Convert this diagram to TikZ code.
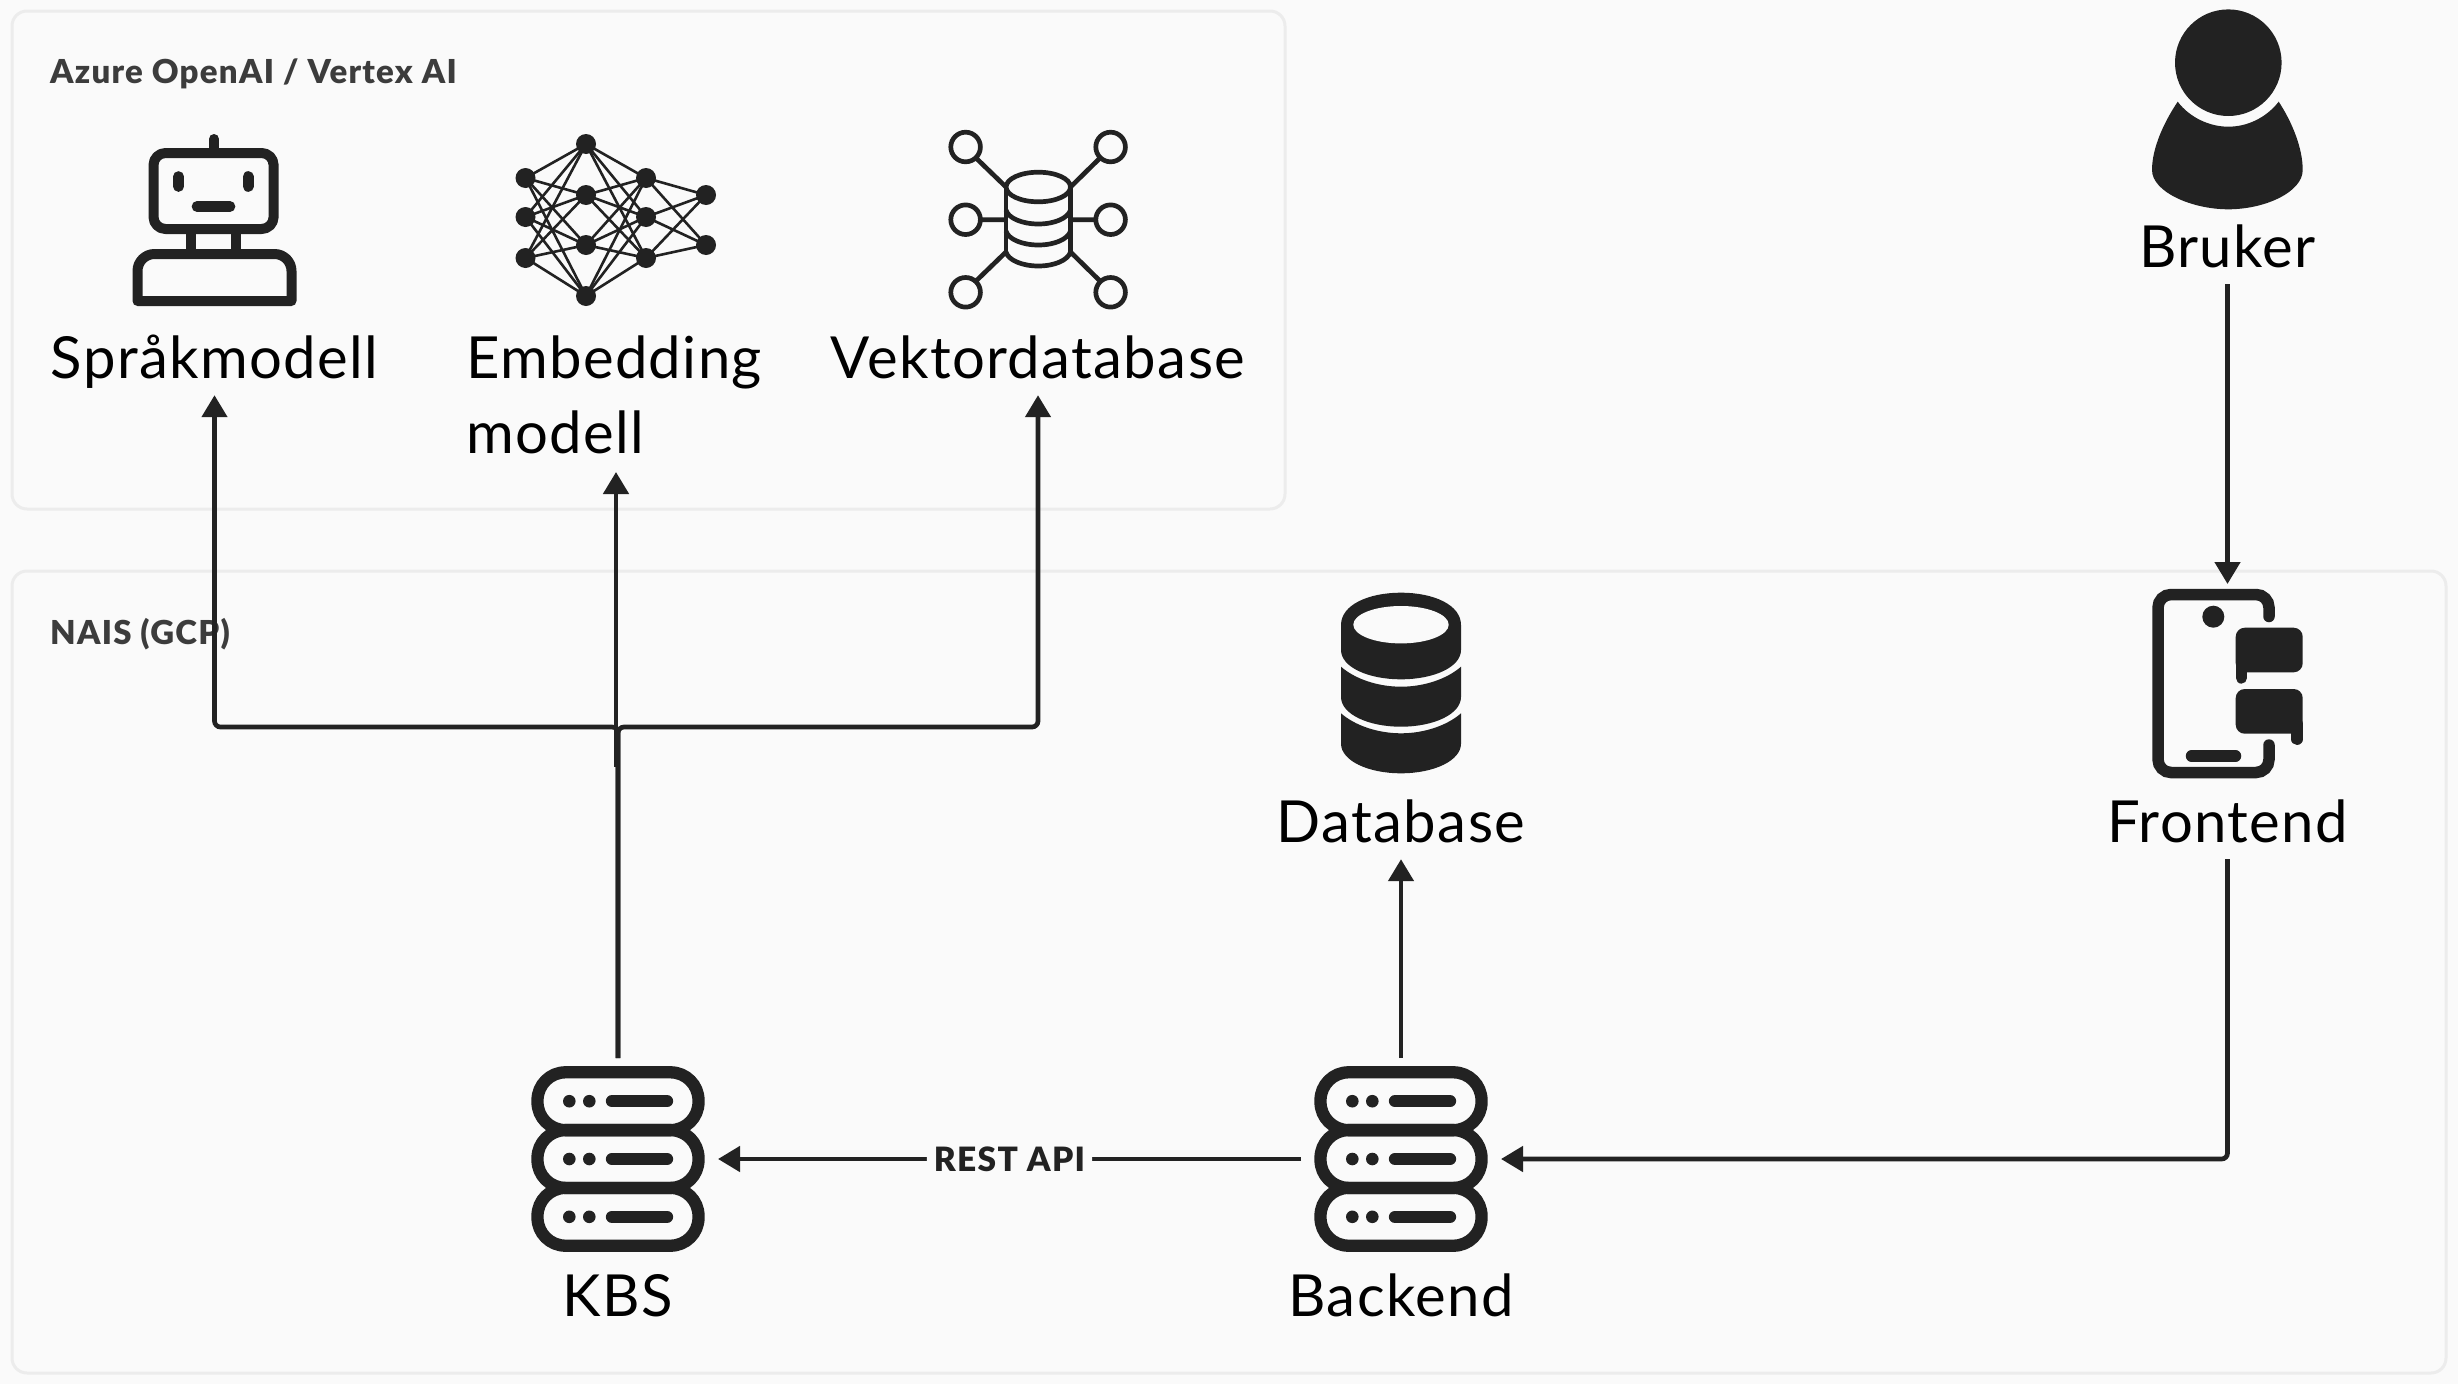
\documentclass[tikz,border=0pt]{standalone}
\usepackage{fontspec}
\setmainfont{Lato}[LetterSpace=2.4]
\newfontfamily\groupfont{Lato}[LetterSpace=3.8, UprightFont=* Black]
\usepackage{xcolor}
\usetikzlibrary{arrows.meta}
\definecolor{ink}{HTML}{222222}
\definecolor{paper}{HTML}{FAFAFA}
\definecolor{edge}{HTML}{ECECEC}
\definecolor{grouptext}{HTML}{3C3C3C}

\tikzset{
  pics/serverstack/.style={code={
    \foreach \row in {-57.8,0,57.8} {
      \draw[ink, line width=12.3pt, rounded corners=28pt] (-80.5,\row-28.9) rectangle (80.5,\row+28.9);
      \fill[ink] (-48.7,\row) circle[radius=6.3pt] (-28.7,\row) circle[radius=6.3pt];
      \draw[ink, line width=12.3pt, line cap=round] (-6,\row) -- (49,\row);
    }
  }},
  pics/dbdisc/.style={code={
    \fill[ink] (-60,0) .. controls (-46,12.3) and (-23,20) .. (0,20) .. controls (23,20) and (46,12.3) .. (60,0)
      -- (60,30.3) .. controls (60,47.3) and (33,60) .. (0,60) .. controls (-33,60) and (-60,47.3) .. (-60,30.3) -- cycle;
  }}
}

\begin{document}
\begin{tikzpicture}[x=1pt, y=-1pt, >={Triangle[length=22pt,width=25pt]},
    group/.style={draw=edge, line width=3pt, rounded corners=15pt, inner sep=0pt},
    grouplbl/.style={anchor=base west, inner sep=0pt, text=grouptext, font=\fontsize{33}{40}\selectfont\groupfont},
    lbl/.style={anchor=base, inner sep=0pt, text height=40pt, text depth=16.5pt, font=\fontsize{58}{75}\selectfont},
    iconbox/.style={inner sep=0pt, outer sep=0pt, minimum width=200pt, minimum height=202pt},
    flow/.style={draw=ink, line width=4.7pt, rounded corners=6pt},
    outline/.style={draw=ink, line width=10pt, line join=round},
    thin outline/.style={draw=ink, line width=4.7pt}]

% Page
\fill[paper] (0,0) rectangle (2458,1384);
\path[use as bounding box] (0,0) rectangle (2458,1384);

% Groups
\node[group, minimum width=1273pt, minimum height=498pt] (azure) at (648.5,260) {};
\node[group, minimum width=2434pt, minimum height=802pt] (nais) at (1229,972) {};
\node[grouplbl] (azurelbl) at (50,83) {Azure OpenAI / Vertex AI};
\node[grouplbl] (naislbl) at (50,644) {NAIS (GCP)};

% Labels
\node[lbl] (sprak) at (214.5,378.5) {Språkmodell};
\node[lbl, anchor=south, align=left, text width=300pt, text depth=93.5pt] (embed) at (616,472) {Embedding\\modell};
\node[lbl] (vektor) at (1038,378.5) {Vektordatabase};
\node[lbl] (bruker) at (2227.5,267.5) {Bruker};
\node[lbl] (database) at (1401,842.5) {Database};
\node[lbl] (frontend) at (2227.5,842.5) {Frontend};
\node[lbl] (kbslbl) at (618,1316.5) {KBS};
\node[lbl] (backendlbl) at (1401,1316.5) {Backend};

% Icon places
\node[iconbox] (kbs) at (618,1159) {};
\node[iconbox] (backend) at (1401,1159) {};
\node[iconbox, minimum height=198pt] (phone) at (2227.5,683) {};
\pic at (kbs) {serverstack};
\pic at (backend) {serverstack};

% Robot
\draw[ink, line width=10pt, line cap=round] (214,139) -- (214,150);
\draw[outline, rounded corners=12pt] (153.5,153) rectangle (273.6,229);
\draw[ink, line width=10.7pt, line cap=round] (178.6,176.5) -- (178.6,186.5) (248.2,176.5) -- (248.2,186.5) (197,206.5) -- (230,206.5);
\draw[ink, line width=10pt] (191,229) -- (191,254) (236,229) -- (236,254);
\draw[outline] (137.5,301) [rounded corners=17pt] -- (137.5,254) -- (291.5,254) [sharp corners] -- (291.5,301) -- cycle;

% Neural net
\foreach \xa/\ya in {525.5/178,525.5/217,525.5/258, 646/178,646/217,646/258}
  \foreach \yb in {144,195,245,296}
    \draw[ink, line width=2.6pt] (\xa,\ya) -- (586,\yb);
\foreach \ya in {178,217,258}
  \foreach \yb in {195,245}
    \draw[ink, line width=2.6pt] (646,\ya) -- (706,\yb);
\foreach \cx/\cy in {525.5/178,525.5/217,525.5/258,586/144,586/195,586/245,586/296,646/178,646/217,646/258,706/195,706/245}
  \fill[ink] (\cx,\cy) circle[radius=10pt];

% Vector database
\foreach \cx in {965.6,1110.6}
  \foreach \cy in {147,219.7,292.3}
    \draw[thin outline] (\cx,\cy) circle[radius=14.8pt];
\draw[thin outline] (976,158) -- (1006,187) (982,219.7) -- (1006,219.7) (976,281) -- (1006,252)
  (1100,158) -- (1070.5,187) (1095,219.7) -- (1070.5,219.7) (1100,281) -- (1070.5,252);
\draw[thin outline] (1038.3,187) ellipse[x radius=32.2pt, y radius=14.8pt];
\draw[thin outline] (1006,187) -- (1006,252) (1070.5,187) -- (1070.5,252);
\foreach \y in {210,231,252}
  \draw[thin outline] (1006,\y) .. controls (1008,\y+8) and (1022,\y+14) .. (1038.3,\y+14) .. controls (1055,\y+14) and (1068,\y+8) .. (1070.5,\y);

% User
\fill[ink] (2228.3,62.7) circle[radius=53.3pt];
\fill[ink] (2177.7,101.7) .. controls (2190,118) and (2210,126.7) .. (2228.3,126.7) .. controls (2247,126.7) and (2266,118) .. (2278.7,101.7)
  .. controls (2292,122) and (2302.7,148) .. (2302.7,170) .. controls (2302.7,192) and (2265,209.3) .. (2228.3,209.3)
  .. controls (2192,209.3) and (2152,192) .. (2152,170) .. controls (2152,148) and (2164,122) .. (2177.7,101.7) -- cycle;

% Phone
\draw[ink, line width=11.5pt, line cap=round, rounded corners=13pt] (2269,616.5) -- (2269,594.5) -- (2158,594.5) -- (2158,772.5) -- (2269,772.5) -- (2269,745);
\fill[ink] (2213.3,616.7) circle[radius=11pt];
\draw[ink, line width=11.5pt, line cap=round] (2191.5,756) -- (2235.5,756);
\fill[ink, rounded corners=9pt] (2235.7,627.7) rectangle (2302.7,672.3);
\fill[ink, rounded corners=9pt] (2235.7,689) rectangle (2302.7,733.7);
\draw[ink, line width=11.3pt, line cap=round] (2241.4,662) -- (2241.4,678) (2297,724) -- (2297,739.3);

% Database
\fill[ink] (1341,625) .. controls (1341,605) and (1368,592.7) .. (1401,592.7) .. controls (1434,592.7) and (1461,605) .. (1461,625)
  -- (1461,650) .. controls (1461,667) and (1434,679.3) .. (1401,679.3) .. controls (1368,679.3) and (1341,667) .. (1341,650) -- cycle;
\fill[paper] (1401,624.7) ellipse[x radius=47.7pt, y radius=18.7pt];
\pic at (1401,666.7) {dbdisc};
\pic at (1401,713.3) {dbdisc};

% Connectors
\coordinate (split) at (618,727);
\coordinate (embedstart) at (616,765);
\draw[flow, ->] (kbs.north) -- (split) -| (sprak.south);
\draw[flow, ->] (kbs.north) -- (split) -| (vektor.south);
\draw[flow, ->, rounded corners=0pt] (kbs.north) |- (embedstart) -- (embed.south);
\draw[flow, ->] (bruker.south) -- (phone.north);
\draw[flow, ->] (backend.north) -- (database.south);
\draw[flow, ->] (frontend.south) |- (backend.east);
\draw[flow, ->] (backend.west) -- node[fill=paper, inner xsep=7pt, inner ysep=2pt, text=ink, font=\fontsize{33.5}{36}\selectfont\groupfont] (rest) {REST API} (kbs.east);

\end{tikzpicture}
\end{document}
